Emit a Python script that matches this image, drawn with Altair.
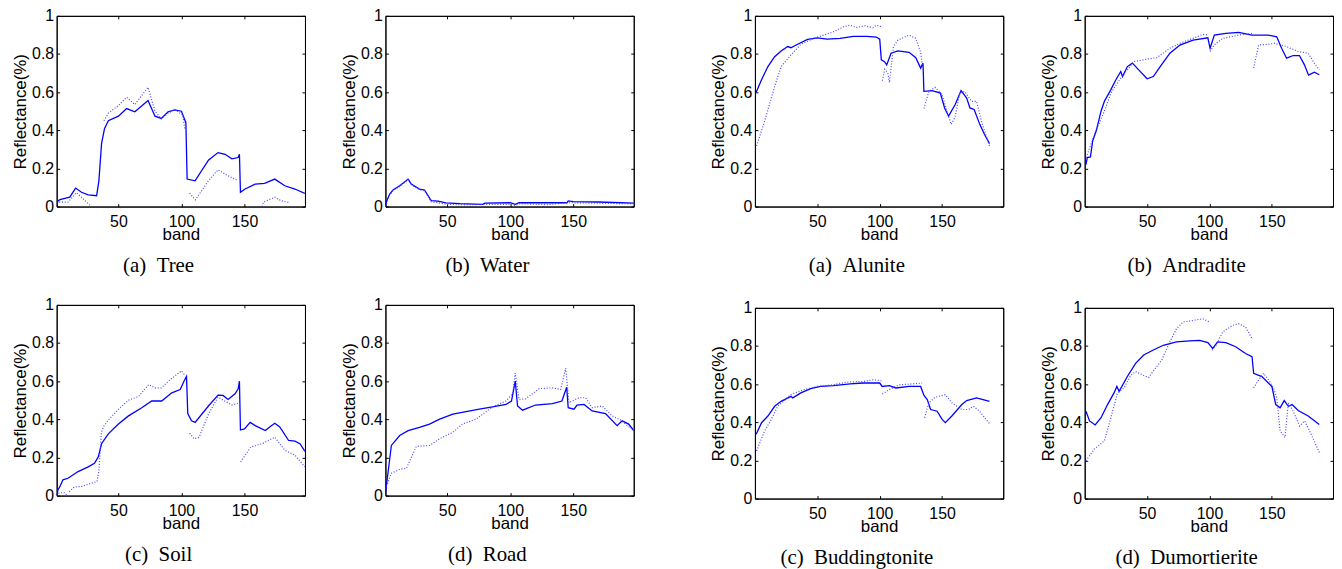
import altair as alt
import pandas as pd

BAND_TICKS = [50, 100, 150]
REFL_TICKS = [0, 0.2, 0.4, 0.6, 0.8, 1]

# ---------------- Jasper Ridge endmembers (bands 1..198) ----------------
TREE_EST_BAND = [1, 2, 3.6, 11.4, 16, 20.7, 26, 32.7, 34.5, 36.6, 39, 42, 50, 56.5, 63, 73.5, 79, 84, 89.4, 94.7, 100, 103.5, 104.5, 110.8, 121.4, 129, 134.6, 140, 145, 146, 146.8, 150.5, 158.5, 166, 174, 182, 190, 198]
TREE_EST_VAL = [0.0, 0.03, 0.036, 0.049, 0.097, 0.075, 0.061, 0.057, 0.135, 0.33, 0.41, 0.45, 0.474, 0.514, 0.497, 0.556, 0.474, 0.462, 0.497, 0.507, 0.5, 0.44, 0.144, 0.135, 0.243, 0.283, 0.274, 0.25, 0.257, 0.274, 0.075, 0.092, 0.118, 0.122, 0.144, 0.109, 0.092, 0.069]
TREE_REF_BAND = [3, 10, 16.7, 22, 27, 29, None, 38.5, 42, 50, 56.5, 63, 73.5, 79, 84, 89.4, 94.7, 101, 102.6, None, 106.5, 111, 121.4, 129, 137, 145, None, 164, 165, 174, 179, 186]
TREE_REF_VAL = [0.023, 0.023, 0.073, 0.04, 0.01, 0.0, None, 0.45, 0.49, 0.53, 0.573, 0.535, 0.625, 0.5, 0.46, 0.49, 0.509, 0.48, 0.41, None, 0.07, 0.035, 0.135, 0.193, 0.161, 0.135, None, 0.0, 0.023, 0.049, 0.031, 0.02]

WATER_EST_BAND = [1, 2, 4.4, 7, 12.3, 19, 21.5, 28, 32, 37.3, 42.6, 49, 60, 78, 80, 100, 104, 107, 120, 145, 146, 150, 170, 198]
WATER_EST_VAL = [0.0, 0.03, 0.066, 0.087, 0.109, 0.144, 0.118, 0.092, 0.087, 0.031, 0.028, 0.019, 0.015, 0.012, 0.018, 0.02, 0.012, 0.02, 0.02, 0.02, 0.03, 0.026, 0.024, 0.018]
WATER_REF_BAND = [1, 4.4, 7, 12.3, 19, 21.5, 28, 32, 37.3, 42.6, 49, 60, 100, 104, 107, 130, 146, 150, 198]
WATER_REF_VAL = [0.0, 0.06, 0.085, 0.105, 0.14, 0.115, 0.088, 0.083, 0.025, 0.02, 0.012, 0.01, 0.012, 0.005, 0.015, 0.01, 0.02, 0.02, 0.014]

SOIL_EST_BAND = [1, 2, 3.6, 6, 10, 18, 26, 31, 34, 36.6, 42, 50, 58, 68.5, 76.4, 84.3, 92.3, 99, 102, 104, 105, 108, 110.8, 121.4, 129, 133, 137, 142.5, 145, 146, 146.8, 150, 154.5, 158.5, 166.5, 170, 174, 178, 185, 190, 194, 198]
SOIL_EST_VAL = [0.0, 0.03, 0.048, 0.083, 0.091, 0.126, 0.151, 0.169, 0.203, 0.272, 0.324, 0.375, 0.418, 0.461, 0.496, 0.496, 0.539, 0.556, 0.6, 0.625, 0.43, 0.392, 0.384, 0.47, 0.527, 0.525, 0.504, 0.534, 0.56, 0.6, 0.344, 0.35, 0.384, 0.367, 0.341, 0.36, 0.379, 0.36, 0.289, 0.286, 0.272, 0.232]
SOIL_REF_BAND = [1, 3, 7, 9, None, 11, 15, 21, 26, 33, 34.5, 36.5, 38, 42, 50, 58, 66, 74, 79, 84, 92, 100, 103, None, 106.5, 110, 114, 121.4, 129, 140, 146, None, 147, 155, 164, 174, 182, 190, 198]
SOIL_REF_VAL = [0.0, 0.015, 0.015, 0.0, None, 0.02, 0.045, 0.048, 0.06, 0.074, 0.13, 0.33, 0.36, 0.396, 0.453, 0.5, 0.52, 0.582, 0.565, 0.565, 0.613, 0.654, 0.63, None, 0.327, 0.298, 0.306, 0.427, 0.516, 0.475, 0.487, None, 0.177, 0.255, 0.272, 0.306, 0.238, 0.212, 0.151]

ROAD_EST_BAND = [1, 3, 5.7, 12.3, 19, 28, 36, 44, 54.5, 65, 75.5, 86, 96.6, 101, 104, 105.8, 109.8, 120, 133.5, 141, 144.8, 146, 150.6, 153, 158.5, 165, 175.6, 184.8, 188.8, 194, 198]
ROAD_EST_VAL = [0.014, 0.117, 0.263, 0.315, 0.341, 0.358, 0.375, 0.401, 0.427, 0.44, 0.453, 0.465, 0.478, 0.496, 0.6, 0.47, 0.448, 0.475, 0.482, 0.496, 0.568, 0.461, 0.453, 0.475, 0.478, 0.444, 0.43, 0.367, 0.392, 0.375, 0.341]
ROAD_REF_BAND = [1.8, 5.7, 12.3, 17.6, 25.5, 36, 44, 54.5, 62, 73, 80.8, 86, 96.6, 101.9, 104, 107, 112.4, 123, 133.5, 140, 144, 146.6, 154.5, 159.8, 165, 173, 180.9, 187.5, 198]
ROAD_REF_VAL = [0.048, 0.117, 0.138, 0.143, 0.258, 0.263, 0.298, 0.332, 0.375, 0.401, 0.44, 0.465, 0.496, 0.534, 0.642, 0.504, 0.508, 0.561, 0.565, 0.556, 0.668, 0.487, 0.513, 0.513, 0.461, 0.47, 0.418, 0.396, 0.341]

# ---------------- Cuprite minerals (bands 1..188) ----------------
ALU_EST_BAND = [1, 5.3, 10.4, 15.8, 21, 26.3, 28.9, 34.2, 42.2, 50, 57.8, 68.3, 78.9, 89.5, 97.3, 100, 101.3, 103.9, 105.6, 109.1, 114.5, 123.5, 128.9, 132.8, 134.7, 135.4, 142, 148.6, 152, 155.2, 160.5, 165.2, 169.7, 172.3, 175.7, 180.2, 184, 188]
ALU_EST_VAL = [0.6, 0.665, 0.734, 0.786, 0.816, 0.839, 0.833, 0.851, 0.877, 0.885, 0.878, 0.882, 0.892, 0.892, 0.889, 0.878, 0.769, 0.76, 0.743, 0.804, 0.816, 0.809, 0.781, 0.726, 0.752, 0.604, 0.608, 0.595, 0.517, 0.474, 0.535, 0.608, 0.569, 0.517, 0.509, 0.431, 0.378, 0.33]
ALU_REF_BAND = [1.3, 7.8, 15.8, 21, 28.9, 36.8, 47.1, 55, 63, 70.9, 76.3, 81.5, 88.1, 94.7, 97.3, 101.3, None, 102.1, 104, 106.5, 107.8, 111, 114.6, 123.5, 128.9, 132.8, 134.1, None, 135.4, 139.4, 144.3, 150, 153.9, 157.2, 160.2, 164.2, 168.1, 173.6, 177.6, 181.5, 188]
ALU_REF_VAL = [0.318, 0.448, 0.63, 0.734, 0.795, 0.851, 0.882, 0.899, 0.917, 0.943, 0.951, 0.939, 0.948, 0.938, 0.951, 0.943, None, 0.66, 0.72, 0.7, 0.65, 0.839, 0.873, 0.899, 0.882, 0.81, 0.743, None, 0.514, 0.604, 0.625, 0.587, 0.5, 0.431, 0.465, 0.595, 0.604, 0.552, 0.552, 0.448, 0.318]

AND_EST_BAND = [1, 2.1, 4.6, 6.4, 9.2, 13.1, 15.8, 21, 25, 28.9, 30.3, 34.2, 38.2, 43.3, 50, 55, 60.5, 68.3, 76.3, 86.8, 98.7, 100.5, 103.9, 113.1, 123.5, 134, 147.2, 153.9, 157.8, 161.8, 167.1, 172.1, 176.1, 179.4, 184, 188]
AND_EST_VAL = [0.22, 0.257, 0.26, 0.344, 0.396, 0.5, 0.552, 0.613, 0.665, 0.708, 0.682, 0.734, 0.752, 0.717, 0.67, 0.682, 0.734, 0.804, 0.847, 0.873, 0.885, 0.83, 0.899, 0.908, 0.913, 0.899, 0.899, 0.89, 0.83, 0.778, 0.792, 0.792, 0.743, 0.689, 0.705, 0.691]
AND_REF_BAND = [1.3, 3, 7.8, 15.8, 21, 28.9, 34.2, 39.2, 50, 57.8, 68.3, 76.3, 86.8, 94.7, 98.7, None, 100.5, 103.7, 110.6, 123.5, 134, None, 135.4, 139.4, 147.3, 152.3, 161.8, 171.1, 179.1, 184, 188]
AND_REF_VAL = [0.257, 0.29, 0.378, 0.5, 0.595, 0.674, 0.717, 0.76, 0.773, 0.781, 0.83, 0.856, 0.882, 0.903, 0.899, None, 0.813, 0.847, 0.882, 0.899, 0.908, None, 0.726, 0.847, 0.851, 0.856, 0.839, 0.813, 0.804, 0.752, 0.717]

BUD_EST_BAND = [1, 5.3, 10.4, 15.8, 21, 28.9, 30.3, 36.8, 44.7, 52.6, 63, 76.3, 86.8, 100, 102, 107.6, 113, 123.5, 132.8, 135.4, 138.1, 140.8, 146, 150, 152.6, 157.8, 165.8, 169.7, 177.6, 182.8, 188]
BUD_EST_VAL = [0.337, 0.398, 0.433, 0.484, 0.51, 0.536, 0.528, 0.554, 0.576, 0.588, 0.592, 0.602, 0.606, 0.606, 0.588, 0.592, 0.58, 0.588, 0.588, 0.542, 0.519, 0.467, 0.458, 0.415, 0.398, 0.433, 0.493, 0.514, 0.528, 0.519, 0.51]
BUD_REF_BAND = [1.3, 7.8, 13.1, 18.3, 28.9, 39.2, 50, 63, 73.6, 86.8, 94.7, 101.3, None, 102.1, 107.6, 115.6, 123.5, 134, None, 136, 139.4, 144.3, 152.6, 157.8, 165.8, 171.1, 175.1, 180, 188]
BUD_REF_VAL = [0.25, 0.355, 0.415, 0.484, 0.545, 0.571, 0.588, 0.597, 0.611, 0.614, 0.623, 0.618, None, 0.548, 0.571, 0.597, 0.6, 0.606, None, 0.424, 0.502, 0.531, 0.545, 0.502, 0.467, 0.467, 0.484, 0.458, 0.393]

DUM_EST_BAND = [1, 3.9, 8.4, 13.1, 18.3, 23.5, 25.8, 27.6, 34.2, 40.8, 47.3, 55, 63, 73.6, 84.1, 92.1, 98.7, 102.6, 106.5, 113.1, 121, 128.9, 134.1, 135.4, 142, 150, 153.1, 156.6, 159.9, 163.2, 166.2, 171.1, 179.1, 188]
DUM_EST_VAL = [0.458, 0.407, 0.386, 0.424, 0.493, 0.554, 0.588, 0.562, 0.64, 0.709, 0.753, 0.779, 0.804, 0.822, 0.827, 0.83, 0.818, 0.787, 0.822, 0.818, 0.796, 0.761, 0.744, 0.657, 0.64, 0.588, 0.493, 0.476, 0.514, 0.484, 0.493, 0.462, 0.433, 0.389]
DUM_REF_BAND = [1, 7.8, 15.8, 21, 26.3, 31.5, 36.8, 40.8, 47.3, 51.3, 56.6, 61.8, 68.3, 73.6, 78.9, 86.8, 94.7, 100, None, 102.1, 105.3, 110.6, 118.4, 123.5, 128.9, 134.1, None, 135.4, 139.4, 143.3, 147.3, 151.3, 153.9, 156.6, 160.5, 163.2, 167.1, 172.3, 176.3, 181.5, 188]
DUM_REF_VAL = [0.199, 0.26, 0.303, 0.424, 0.554, 0.58, 0.645, 0.666, 0.645, 0.635, 0.683, 0.727, 0.822, 0.891, 0.926, 0.934, 0.943, 0.926, None, 0.779, 0.804, 0.874, 0.908, 0.917, 0.9, 0.839, None, 0.58, 0.623, 0.657, 0.623, 0.58, 0.528, 0.355, 0.32, 0.502, 0.458, 0.38, 0.407, 0.337, 0.242]

SOLID = "#0000ff"
DOTTED = "#4646ff"
INWARD = {"expr": "-3"}


def frame(bands, vals):
    seg, rows = 0, []
    for b, v in zip(bands, vals):
        if b is None:
            seg += 1
            continue
        rows.append({"band": b, "val": v, "seg": seg})
    return pd.DataFrame(rows)


def panel(est_b, est_v, ref_b, ref_v, caption, xdom):
    xs = alt.Scale(domain=xdom, nice=False, zero=False)
    ys = alt.Scale(domain=[0, 1], nice=False, zero=False)
    solid = alt.Chart(frame(est_b, est_v)).mark_line(
        color=SOLID, strokeWidth=1.3, clip=True
    ).encode(
        x=alt.X("band:Q", scale=xs, axis=alt.Axis(
            orient="bottom", values=BAND_TICKS, title="band",
            tickSize=INWARD, labelPadding=10, titlePadding=-3)),
        y=alt.Y("val:Q", scale=ys, axis=alt.Axis(
            orient="left", values=REFL_TICKS, format="~g", title="Reflectance(%)",
            tickSize=INWARD, labelPadding=6, titlePadding=2)),
    )
    dotted = alt.Chart(frame(ref_b, ref_v)).mark_line(
        color=DOTTED, strokeWidth=1.2, strokeDash=[1, 1.8], clip=True
    ).encode(
        x=alt.X("band:Q", scale=xs, axis=alt.Axis(
            orient="top", values=BAND_TICKS, labels=False, title=None, tickSize=INWARD)),
        y=alt.Y("val:Q", scale=ys, axis=alt.Axis(
            orient="right", values=REFL_TICKS, labels=False, title=None, tickSize=INWARD)),
        detail="seg:N",
    )
    return alt.layer(solid, dotted).resolve_axis(
        x="independent", y="independent"
    ).properties(
        width=250, height=192,
        title=alt.TitleParams(
            text=caption, orient="bottom", anchor="middle", frame="bounds",
            font="Liberation Serif", fontSize=21, fontWeight="normal",
            color="black", offset=13),
    )


SP = "\u00a0\u00a0"
LEFT_DOM = [1, 198]
RIGHT_DOM = [0, 199]

p_tree = panel(TREE_EST_BAND, TREE_EST_VAL, TREE_REF_BAND, TREE_REF_VAL, "(a)" + SP + "Tree", LEFT_DOM)
p_water = panel(WATER_EST_BAND, WATER_EST_VAL, WATER_REF_BAND, WATER_REF_VAL, "(b)" + SP + "Water", LEFT_DOM)
p_soil = panel(SOIL_EST_BAND, SOIL_EST_VAL, SOIL_REF_BAND, SOIL_REF_VAL, "(c)" + SP + "Soil", LEFT_DOM)
p_road = panel(ROAD_EST_BAND, ROAD_EST_VAL, ROAD_REF_BAND, ROAD_REF_VAL, "(d)" + SP + "Road", LEFT_DOM)

p_alu = panel(ALU_EST_BAND, ALU_EST_VAL, ALU_REF_BAND, ALU_REF_VAL, "(a)" + SP + "Alunite", RIGHT_DOM)
p_and = panel(AND_EST_BAND, AND_EST_VAL, AND_REF_BAND, AND_REF_VAL, "(b)" + SP + "Andradite", RIGHT_DOM)
p_bud = panel(BUD_EST_BAND, BUD_EST_VAL, BUD_REF_BAND, BUD_REF_VAL, "(c)" + SP + "Buddingtonite", RIGHT_DOM)
p_dum = panel(DUM_EST_BAND, DUM_EST_VAL, DUM_REF_BAND, DUM_REF_VAL, "(d)" + SP + "Dumortierite", RIGHT_DOM)

left = alt.vconcat(
    alt.hconcat(p_tree, p_water, spacing=34),
    alt.hconcat(p_soil, p_road, spacing=34),
    spacing=19,
)
right = alt.vconcat(
    alt.hconcat(p_alu, p_and, spacing=35),
    alt.hconcat(p_bud, p_dum, spacing=35),
    spacing=22,
)

chart = alt.hconcat(left, right, spacing=75).properties(
    padding={"left": 3, "top": -3, "right": 0, "bottom": 0},
    background="white",
).configure_axis(
    labelFont="Liberation Sans", labelFontSize=16, labelColor="black",
    titleFont="Liberation Sans", titleFontSize=17, titleFontWeight="normal", titleColor="black",
    domainColor="black", domainWidth=1, tickColor="black", tickWidth=1, grid=False,
).configure_view(stroke="black", strokeWidth=1)

chart.save("out.html", embed_options={"renderer": "svg", "actions": False})
